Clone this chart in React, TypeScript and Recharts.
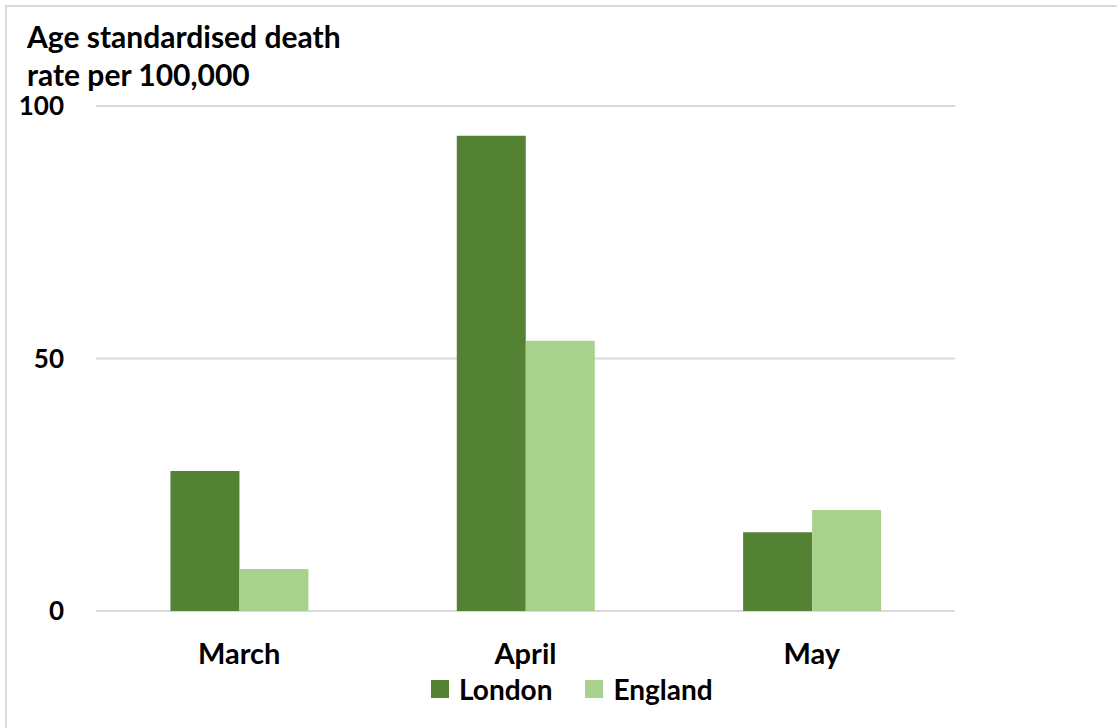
import React from 'react';
import { BarChart, Bar, XAxis, YAxis, CartesianGrid, Legend } from 'recharts';

const months = ['March', 'April', 'May'];
const londonRates = [27.7, 94.1, 15.6];
const englandRates = [8.3, 53.5, 20.0];
const yTicks = [0, 50, 100];
const seriesNames = ['London', 'England'];
const seriesColors = ['#548235', '#A9D18E'];
const titleLines = ['Age standardised death', 'rate per 100,000'];

const data = months.map((m, i) => ({ month: m, London: londonRates[i], England: englandRates[i] }));

const FONT = 'Lato, "Open Sans", sans-serif';

const LegendContent = () => (
  <div style={{ display: 'flex', alignItems: 'center', fontFamily: FONT, fontWeight: 700, fontSize: 28, lineHeight: '30px', color: '#000' }}>
    {seriesNames.map((n, i) => (
      <div key={n} style={{ display: 'flex', alignItems: 'center', marginRight: i === 0 ? 33 : 0 }}>
        <div style={{ width: 18, height: 18, background: seriesColors[i], marginRight: 10 }} />
        <span>{n}</span>
      </div>
    ))}
  </div>
);

export default function App() {
  return (
    <div style={{ position: 'absolute', left: 0, top: 0, width: 1117, height: 728, overflow: 'hidden', background: '#fff' }}>
      <div style={{ position: 'absolute', left: 5, top: 5, width: 1130, height: 740, border: '2px solid #d9d9d9', boxSizing: 'border-box' }} />
      {titleLines.map((t, i) => (
        <div key={t} style={{ position: 'absolute', left: 27, top: 21 + i * 38, fontFamily: FONT, fontWeight: 700, fontSize: 30, lineHeight: '30px', color: '#000', whiteSpace: 'nowrap' }}>
          {t}
        </div>
      ))}
      <div style={{ position: 'absolute', left: 0, top: 0 }}>
        <BarChart width={1117} height={728} data={data} margin={{ top: 106, right: 162, bottom: 37, left: 0 }} barCategoryGap="26%" barGap={0}>
          <CartesianGrid vertical={false} stroke="#d9d9d9" strokeWidth={2} />
          <XAxis dataKey="month" axisLine={false} tickLine={false} tickSize={0} tickMargin={32} height={50}
            tick={{ fill: '#000', fontFamily: FONT, fontWeight: 700, fontSize: 29 }} />
          <YAxis domain={[0, 100]} ticks={yTicks} axisLine={false} tickLine={false} tickSize={0} tickMargin={32} width={96}
            tick={{ fill: '#000', fontFamily: FONT, fontWeight: 700, fontSize: 26 }} />
          <Legend content={<LegendContent />} wrapperStyle={{ left: 431, top: 674, width: 340, height: 30 }} />
          <Bar dataKey="London" fill={seriesColors[0]} isAnimationActive={false} />
          <Bar dataKey="England" fill={seriesColors[1]} isAnimationActive={false} />
        </BarChart>
      </div>
    </div>
  );
}
